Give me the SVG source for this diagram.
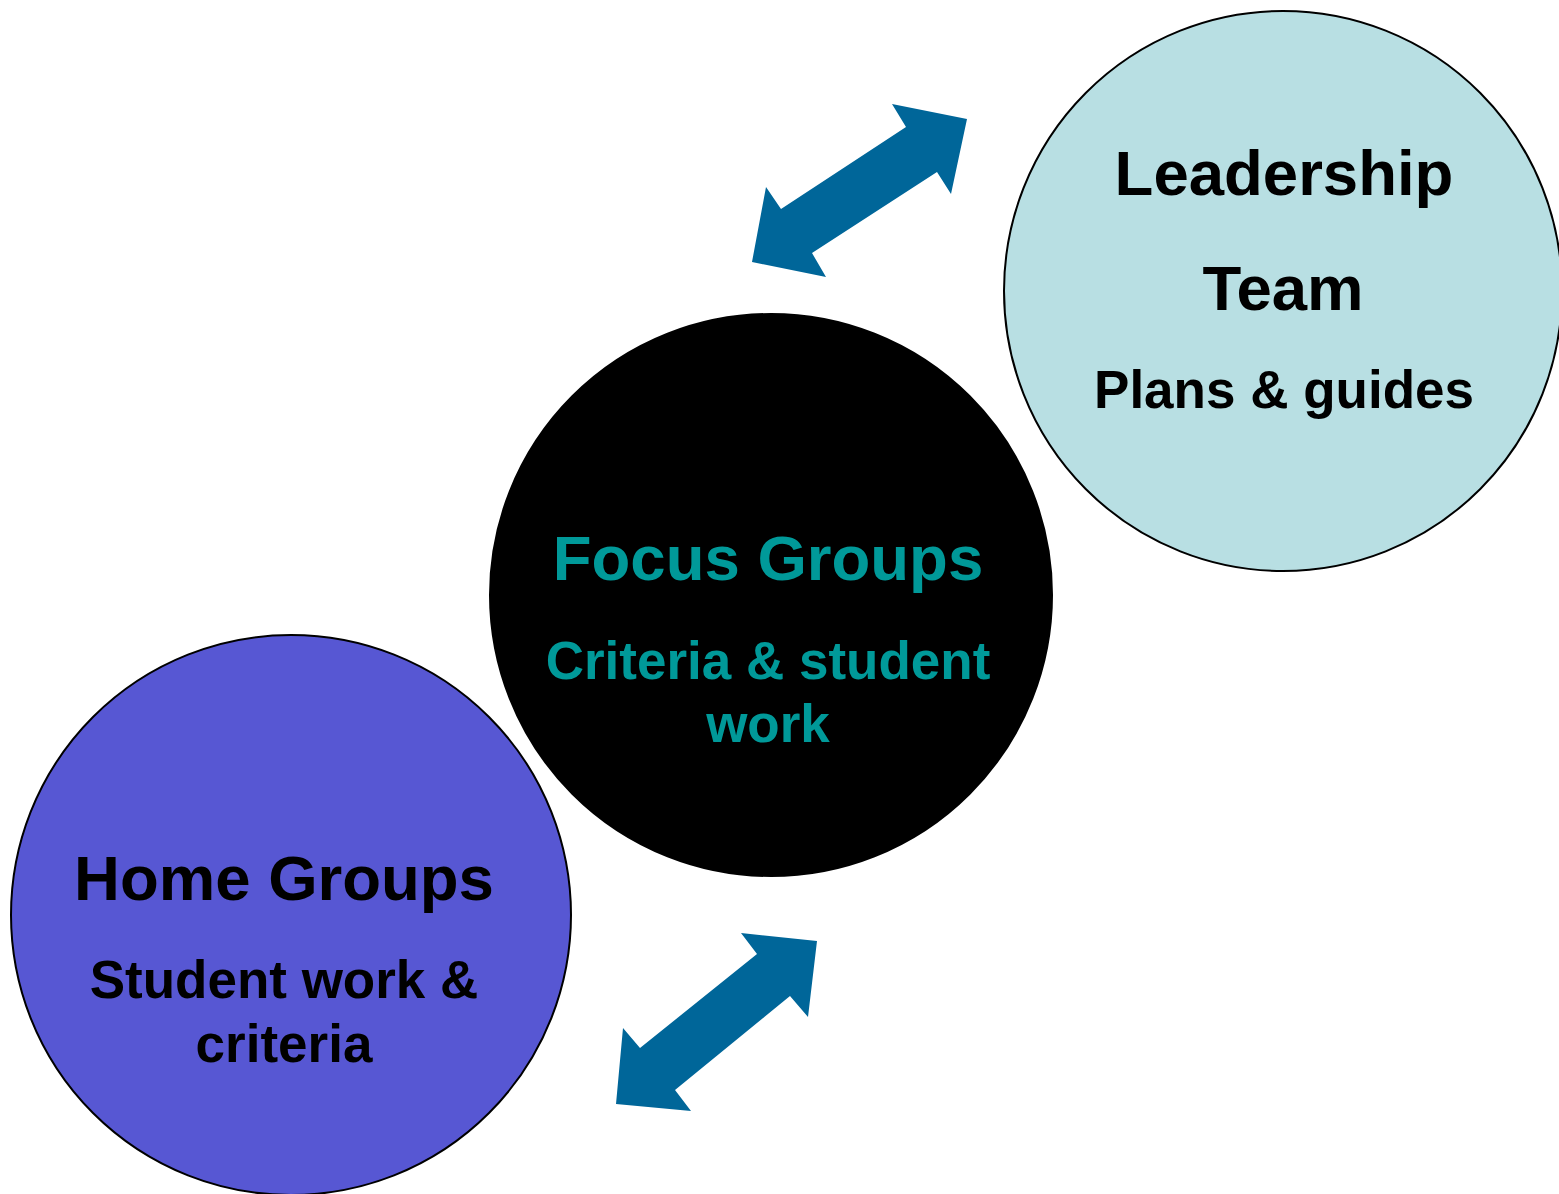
<svg xmlns="http://www.w3.org/2000/svg" width="1559" height="1194" viewBox="0 0 1559 1194">
<style>
.c{stroke:#000;stroke-width:2}
.t{font-family:"Liberation Sans",Arial,sans-serif;font-weight:bold;text-anchor:middle}
.h{font-size:63.5px}
.s{font-size:53px}
.arr{fill:#006699}
</style>
<rect width="1559" height="1194" fill="#fff"/>
<g id="leadership">
<ellipse class="c" cx="1283" cy="291" rx="279" ry="280" fill="#B8DFE3"/>
<text class="t h" x="1284" y="195" fill="#000">Leadership</text>
<text class="t h" x="1283" y="310" fill="#000">Team</text>
<text class="t s" x="1284" y="408" fill="#000">Plans &amp; guides</text>
</g>
<g id="focus">
<ellipse class="c" cx="771" cy="595" rx="281" ry="281" fill="#000"/>
<text class="t h" x="768" y="580" fill="#009999">Focus Groups</text>
<text class="t s" x="768" y="679" fill="#009999">Criteria &amp; student</text>
<text class="t s" x="768" y="742" fill="#009999">work</text>
</g>
<g id="home">
<ellipse class="c" cx="291" cy="915" rx="280" ry="280" fill="#5757D3"/>
<text class="t h" x="284" y="900" fill="#000">Home Groups</text>
<text class="t s" x="284" y="998" fill="#000">Student work &amp;</text>
<text class="t s" x="284" y="1062" fill="#000">criteria</text>
</g>
<g id="connectors">
<polygon class="arr" points="892,104 967,119 951,194 937,172 812,253 826,277 752,262 766,187 781,209 906,127"/>
<polygon class="arr" points="741,933 817,941 808,1017 790,996 675,1090 691,1111 616,1104 623,1028 640,1048 757,954"/>
</g>
</svg>
